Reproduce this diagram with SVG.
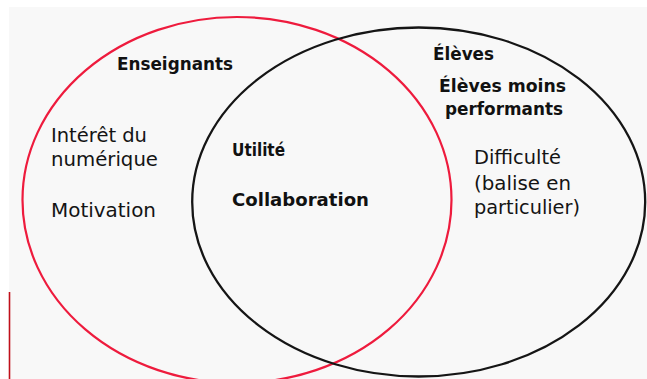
<svg xmlns="http://www.w3.org/2000/svg" width="647" height="379" viewBox="0 0 647 379">
<style>
  .t { font-family: "DejaVu Sans", "Liberation Sans", sans-serif; font-size: 19px; fill: #141414; }
  .b { font-family: "DejaVu Sans", "Liberation Sans", sans-serif; font-size: 18px; font-weight: bold; fill: #111; }
  .red { fill: none; stroke: #ee1b3d; stroke-width: 2.2; }
  .blk { fill: none; stroke: #151515; stroke-width: 2.3; }
</style>
<rect x="0" y="0" width="647" height="379" fill="#ffffff"/>
<rect x="9" y="7" width="638" height="372" fill="#f8f8f8"/>
<line x1="9.5" y1="292" x2="9.5" y2="379" stroke="#c0101a" stroke-width="1.6"/>
<g id="enseignants">
  <ellipse class="red" cx="237" cy="200" rx="214.5" ry="183"/>
  <text class="b" x="117" y="70" textLength="116" lengthAdjust="spacingAndGlyphs">Enseignants</text>
  <text class="t" x="51" y="141.5" textLength="96" lengthAdjust="spacingAndGlyphs">Intérêt du</text>
  <text class="t" x="51" y="165.5" textLength="107" lengthAdjust="spacingAndGlyphs">numérique</text>
  <text class="t" x="51" y="216.5" textLength="105" lengthAdjust="spacingAndGlyphs">Motivation</text>
</g>
<g id="eleves">
  <ellipse class="blk" cx="418.7" cy="202" rx="226.5" ry="174.5"/>
  <text class="b" x="433" y="60" textLength="61" lengthAdjust="spacingAndGlyphs">Élèves</text>
  <text class="b" x="439" y="91.5" textLength="127" lengthAdjust="spacingAndGlyphs">Élèves moins</text>
  <text class="b" x="445" y="114.5" textLength="118" lengthAdjust="spacingAndGlyphs">performants</text>
  <text class="t" x="474" y="164" textLength="87" lengthAdjust="spacingAndGlyphs">Difficulté</text>
  <text class="t" x="474" y="189.5" textLength="97" lengthAdjust="spacingAndGlyphs">(balise en</text>
  <text class="t" x="474" y="213.5" textLength="106" lengthAdjust="spacingAndGlyphs">particulier)</text>
</g>
<g id="intersection">
  <text class="b" x="232" y="156" textLength="53" lengthAdjust="spacingAndGlyphs">Utilité</text>
  <text class="b" x="232" y="206" textLength="137" lengthAdjust="spacingAndGlyphs">Collaboration</text>
</g>
</svg>
